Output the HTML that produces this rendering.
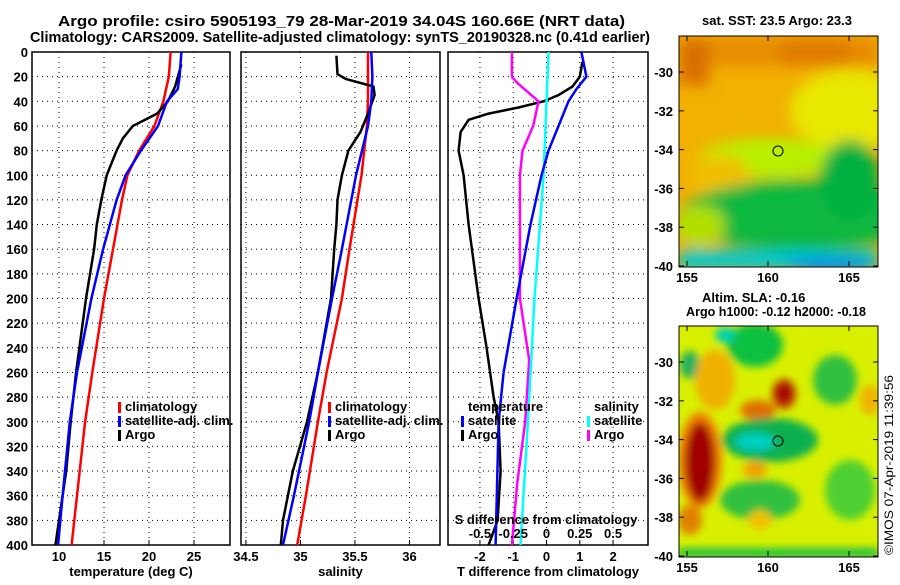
<!DOCTYPE html>
<html><head><meta charset="utf-8">
<style>
body{margin:0;background:#fff;}
svg text{font-family:"Liberation Sans",sans-serif;font-weight:bold;fill:#000;}
</style></head>
<body>
<svg id="fig" width="900" height="580" xmlns="http://www.w3.org/2000/svg">
<defs>
<filter id="bl" x="-50%" y="-50%" width="200%" height="200%"><feGaussianBlur stdDeviation="7"/></filter>
<filter id="bl2" x="-50%" y="-50%" width="200%" height="200%"><feGaussianBlur stdDeviation="4"/></filter>
<clipPath id="c1"><rect x="679" y="36" width="199" height="231"/></clipPath>
<clipPath id="c2"><rect x="679" y="326" width="199" height="231"/></clipPath>
</defs>
<text x="58" y="26" font-size="15" textLength="567" lengthAdjust="spacingAndGlyphs">Argo profile: csiro 5905193_79 28-Mar-2019 34.04S 160.66E (NRT data)</text>
<text x="30" y="42" font-size="15" textLength="620" lengthAdjust="spacingAndGlyphs">Climatology: CARS2009. Satellite-adjusted climatology: synTS_20190328.nc (0.41d earlier)</text>
<g id="charts"></g>

<!-- SST map -->
<text x="702" y="25" font-size="13" textLength="150" lengthAdjust="spacingAndGlyphs">sat. SST: 23.5 Argo: 23.3</text>
<g clip-path="url(#c1)">
<rect x="679" y="36" width="199" height="231" fill="#f2b000"/>
<g filter="url(#bl)">
<rect x="679" y="36" width="199" height="30" fill="#e88c00"/>
<rect x="780" y="40" width="70" height="25" fill="#e07a00"/>
<rect x="679" y="40" width="30" height="45" fill="#d86e00"/>
<ellipse cx="850" cy="110" rx="60" ry="40" fill="#e8e800"/>
<ellipse cx="770" cy="158" rx="70" ry="20" fill="#b8f000"/>
<ellipse cx="720" cy="175" rx="30" ry="20" fill="#f0c000"/>
<ellipse cx="800" cy="215" rx="120" ry="35" fill="#10b840"/>
<ellipse cx="850" cy="180" rx="30" ry="40" fill="#00b040"/>
<ellipse cx="700" cy="225" rx="25" ry="20" fill="#b0e000"/>
<rect x="679" y="250" width="199" height="20" fill="#00c8d0"/>
<ellipse cx="830" cy="265" rx="45" ry="8" fill="#0090e8"/>
</g>
<circle cx="778" cy="151" r="5" fill="none" stroke="#000"/>
</g>
<rect x="679" y="36" width="199" height="231" fill="none" stroke="#000"/>

<!-- SLA map -->
<text x="702" y="302" font-size="13">Altim. SLA: -0.16</text>
<text x="686" y="316" font-size="13" textLength="180" lengthAdjust="spacingAndGlyphs">Argo h1000: -0.12 h2000: -0.18</text>
<g clip-path="url(#c2)">
<rect x="679" y="326" width="199" height="231" fill="#d8f000"/>
<g filter="url(#bl2)">
<ellipse cx="755" cy="345" rx="28" ry="22" fill="#10c040"/>
<ellipse cx="725" cy="335" rx="10" ry="8" fill="#00d0b0"/>
<ellipse cx="690" cy="365" rx="10" ry="14" fill="#20b060"/>
<ellipse cx="715" cy="380" rx="20" ry="30" fill="#f0b000"/>
<ellipse cx="835" cy="380" rx="22" ry="25" fill="#30c040"/>
<ellipse cx="784" cy="394" rx="12" ry="15" fill="#c03000"/>
<ellipse cx="784" cy="393" rx="7" ry="9" fill="#a00000"/>
<ellipse cx="758" cy="410" rx="18" ry="10" fill="#e07000"/>
<ellipse cx="770" cy="440" rx="48" ry="22" fill="#10b050"/>
<ellipse cx="755" cy="442" rx="20" ry="9" fill="#00d0c0"/>
<ellipse cx="700" cy="460" rx="22" ry="48" fill="#f08000"/>
<ellipse cx="700" cy="462" rx="15" ry="40" fill="#a00000"/>
<ellipse cx="755" cy="470" rx="12" ry="8" fill="#f0a000"/>
<ellipse cx="760" cy="500" rx="40" ry="20" fill="#30c040"/>
<ellipse cx="850" cy="490" rx="25" ry="30" fill="#50d030"/>
<ellipse cx="760" cy="520" rx="12" ry="10" fill="#f0c000"/>
<ellipse cx="690" cy="520" rx="12" ry="15" fill="#e08000"/>
<rect x="679" y="548" width="199" height="10" fill="#20c040"/>
<ellipse cx="870" cy="400" rx="10" ry="15" fill="#f0b000"/>
</g>
<circle cx="778" cy="441" r="5" fill="none" stroke="#000"/>
</g>
<rect x="679" y="326" width="199" height="231" fill="none" stroke="#000"/>
<text transform="translate(893,555) rotate(-90)" font-size="12" style="font-weight:normal" textLength="180" lengthAdjust="spacingAndGlyphs">©IMOS 07-Apr-2019 11:39:56</text>
</svg>
<script>
// ---- data ----
const depthTicks=[0,20,40,60,80,100,120,140,160,180,200,220,240,260,280,300,320,340,360,380,400];
const tempTicks=[10,15,20,25];
const salTicks=[34.5,35,35.5,36];
const tdiffTicks=[-2,-1,0,1,2];
const sdiffTicks=[-0.5,-0.25,0,0.25,0.5];
const sdiffTickLabels=["-0.5","-0.25","0","0.25","0.5"];
const latTicks=[-30,-32,-34,-36,-38,-40];
const lonTicks=[155,160,165];

const climTDepth=[0,20,40,60,80,100,120,160,200,260,300,340,400];
const climT=[22.4,22.2,21.6,20.6,18.9,17.6,17.0,16.0,15.0,13.7,12.9,12.3,11.4];
const satTDepth=[0,20,30,40,60,80,100,120,160,200,260,300,360,400];
const satT=[23.6,23.4,23.2,22.0,21.0,19.1,17.4,16.4,14.9,13.6,12.0,11.2,10.4,9.9];
const argoTDepth=[10,28,40,50,60,70,80,100,120,140,160,200,260,300,340,400];
const argoT=[23.6,22.9,22.1,20.9,18.2,17.1,16.4,15.3,14.7,14.2,13.9,13.0,11.9,11.3,10.8,9.6];

const climSDepth=[0,40,60,100,160,200,260,300,360,400];
const climS=[35.62,35.62,35.61,35.56,35.45,35.38,35.24,35.16,35.05,34.97];
const satSDepth=[0,20,40,60,100,160,200,260,300,360,400];
const satS=[35.65,35.66,35.65,35.62,35.51,35.38,35.29,35.16,35.08,34.94,34.84];
const argoSDepth=[3,18,22,28,35,50,65,80,100,120,140,160,200,260,300,340,380,400];
const argoS=[35.33,35.34,35.42,35.67,35.68,35.62,35.55,35.44,35.38,35.34,35.33,35.31,35.28,35.16,35.06,34.93,34.84,34.82];

const argoTdDepth=[8,20,28,35,40,45,50,55,65,80,100,140,200,240,280,300,340,380,400];
const argoTd=[1.08,1.0,0.78,0.36,-0.09,-0.84,-1.74,-2.34,-2.58,-2.64,-2.49,-2.34,-2.04,-1.8,-1.59,-1.44,-1.38,-1.47,-1.74];
const satTdDepth=[0,20,30,40,60,80,100,140,200,260,300,400];
const satTd=[1.05,1.2,0.9,0.66,0.36,0.06,-0.15,-0.48,-0.9,-1.29,-1.44,-1.53];
const satSdDepth=[0,100,200,300,400];
const satSd=[0.015,-0.022,-0.09,-0.14,-0.195];
const argoSdDepth=[0,20,25,40,60,80,100,150,200,250,300,350,400];
const argoSd=[-0.26,-0.26,-0.22,-0.06,-0.1,-0.18,-0.2,-0.2,-0.2,-0.13,-0.16,-0.22,-0.26];

// ---- layout ----
const NS="http://www.w3.org/2000/svg";
const g=document.getElementById('charts');
const Y0=52,Y1=545;
const yS=d=>Y0+(d/400)*(Y1-Y0);
function lin(d0,d1,r0,r1){return v=>r0+(v-d0)/(d1-d0)*(r1-r0);}
function el(tag,attrs,parent){const e=document.createElementNS(NS,tag);for(const k in attrs)e.setAttribute(k,attrs[k]);(parent||g).appendChild(e);return e;}
function txt(x,y,s,size,anchor,name){const t=el('text',{x:x,y:y,'font-size':size,'text-anchor':anchor||'middle'});t.textContent=s;


return t;}

function panel(name,x0,x1,xs,ticks,labels,showY,xlabel){
  const r=el('rect',{x:x0,y:Y0,width:x1-x0,height:Y1-Y0,fill:'none',stroke:'#000','stroke-width':1.5});
  
  
  depthTicks.forEach(d=>{
    const l=el('line',{x1:x0,x2:x1,y1:yS(d),y2:yS(d),stroke:'#000','stroke-dasharray':'1,4'});
    
    
    if(showY)txt(x0-4,yS(d)+5,String(d),13,'end','depth-tick-label');
  });
  ticks.forEach((v,i)=>{
    const x=xs(v);
    const l=el('line',{x1:x,x2:x,y1:Y0,y2:Y1,stroke:'#000','stroke-dasharray':'1,4'});
    
    
    el('line',{x1:x,x2:x,y1:Y1,y2:Y1-5,stroke:'#000'});
    txt(x,Y1+16,labels[i],13,'middle',name+'-x-tick-label');
  });
  txt((x0+x1)/2,Y1+31,xlabel,13,'middle',name+'-x-axis-title');
}
function series(name,xs,vals,depths,color){
  const pts=vals.map((v,i)=>xs(v).toFixed(1)+','+yS(depths[i]).toFixed(1)).join(' ');
  const p=el('polyline',{points:pts,fill:'none',stroke:color,'stroke-width':2.5,'stroke-linejoin':'round'});
  
  
}
function legend(x,y,label,color,name){
  if(color){const m=el('rect',{x:x,y:y-9,width:3,height:11,fill:color});
  
  }
  txt(x+7,y,label,13,'start',name);
}

const xT=lin(7,29,32,230);
panel('temperature-panel',32,230,xT,tempTicks,tempTicks.map(String),true,'temperature (deg C)');
series('climatology-temperature-line',xT,climT,climTDepth,'#ff0000');
series('argo-temperature-line',xT,argoT,argoTDepth,'#000');
series('satellite-temperature-line',xT,satT,satTDepth,'#0000ff');
legend(118,411,'climatology','#ff0000','legend-climatology');
legend(118,425,'satellite-adj. clim.','#0000ff','legend-satellite-adj');
legend(118,439,'Argo','#000','legend-argo');

const xS=lin(34.455,36.28,241,440);
panel('salinity-panel',241,440,xS,salTicks,salTicks.map(String),false,'salinity');
series('climatology-salinity-line',xS,climS,climSDepth,'#ff0000');
series('argo-salinity-line',xS,argoS,argoSDepth,'#000');
series('satellite-salinity-line',xS,satS,satSDepth,'#0000ff');
legend(328,411,'climatology','#ff0000','legend-climatology-2');
legend(328,425,'satellite-adj. clim.','#0000ff','legend-satellite-adj-2');
legend(328,439,'Argo','#000','legend-argo-2');

const xD=lin(-2.96,3.05,448,648);
const xSd=v=>xD(v*4);
panel('difference-panel',448,648,xD,tdiffTicks,tdiffTicks.map(String),false,'T difference from climatology');
series('argo-t-diff-line',xD,argoTd,argoTdDepth,'#000');
series('argo-s-diff-line',xSd,argoSd,argoSdDepth,'#ff00ff');
series('satellite-s-diff-line',xSd,satSd,satSdDepth,'#00ffff');
series('satellite-t-diff-line',xD,satTd,satTdDepth,'#0000ff');
txt(468,411,'temperature',13,'start','legend-temperature-heading');
legend(461,425,'satellite','#0000ff','legend-t-satellite');
legend(461,439,'Argo','#000','legend-t-argo');
txt(594,411,'salinity',13,'start','legend-salinity-heading');
legend(587,425,'satellite','#00ffff','legend-s-satellite');
legend(587,439,'Argo','#ff00ff','legend-s-argo');
txt(546,524,'S difference from climatology',13,'middle','s-diff-axis-title');
sdiffTicks.forEach((v,i)=>txt(xSd(v),538,sdiffTickLabels[i],13,'middle','s-diff-tick-label'));

// map axes
const svg=document.getElementById('fig');
function mapAxes(top,bottom,name,lonLabels){
  const yl=lin(-30,-40,top+36,bottom);
  latTicks.forEach(v=>{
    el('line',{x1:878,x2:873,y1:yl(v),y2:yl(v),stroke:'#000'},svg);
    el('line',{x1:679,x2:684,y1:yl(v),y2:yl(v),stroke:'#000'},svg);
    const t=el('text',{x:673,y:yl(v)+5,'font-size':13,'text-anchor':'end'},svg);t.textContent=String(v);
    
    
  });
  const xl=lin(155,165,687,849);
  lonTicks.forEach(v=>{
    el('line',{x1:xl(v),x2:xl(v),y1:bottom,y2:bottom-5,stroke:'#000'},svg);
    el('line',{x1:xl(v),x2:xl(v),y1:top,y2:top+5,stroke:'#000'},svg);
    if(lonLabels){const t=el('text',{x:xl(v),y:bottom+16,'font-size':13,'text-anchor':'middle'},svg);t.textContent=String(v);
    
    }
  });
}
mapAxes(36,266,'sst-map',true);
mapAxes(326,556,'sla-map',true);
</script>
</body></html>
